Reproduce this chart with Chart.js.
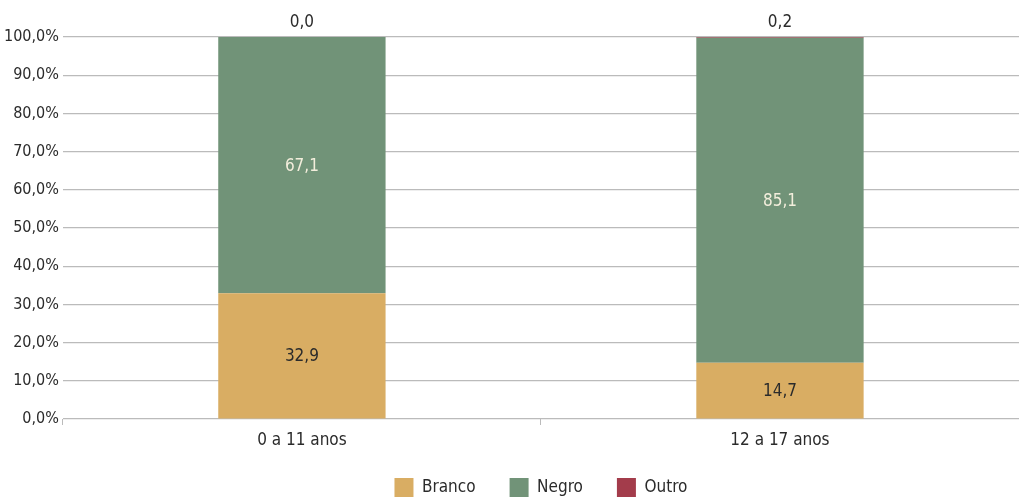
<!DOCTYPE html>
<html>
<head>
<meta charset="utf-8">
<script src="https://cdn.jsdelivr.net/npm/chart.js@4/dist/chart.umd.min.js"></script>
<style>
html,body{margin:0;padding:0;background:#fff;}
#wrap{width:1019px;height:497px;position:relative;}
</style>
</head>
<body>
<div id="wrap"><canvas id="c" width="1019" height="497"></canvas></div>
<script>
const categories = ["0 a 11 anos", "12 a 17 anos"];
const branco = [32.9, 14.7];
const negro = [67.1, 85.1];
const outro = [0.0, 0.2];
const seriesNames = ["Branco", "Negro", "Outro"];
const colors = ["#D9AD63", "#719378", "#A33C4B"];
const FONT = "'DejaVu Sans Condensed', 'Liberation Sans Narrow', sans-serif";

const fmt = v => v.toFixed(1).replace('.', ',');

const labelPlugin = {
  id: 'barLabels',
  afterLayout(chart) {
    // let the category labels paint below the shortened axis box
    const x = chart.scales.x;
    if (x) x.bottom = chart.height;
  },
  afterDatasetsDraw(chart) {
    const ctx = chart.ctx;
    ctx.save();
    ctx.font = "17px " + FONT;
    ctx.textAlign = 'center';
    chart.data.datasets.forEach((ds, di) => {
      const meta = chart.getDatasetMeta(di);
      meta.data.forEach((bar, i) => {
        const v = ds.data[i];
        if (di === 2) {
          ctx.fillStyle = '#2b2b2b';
          ctx.textBaseline = 'bottom';
          ctx.fillText(fmt(v), bar.x, bar.y - 6);
        } else {
          ctx.fillStyle = di === 1 ? '#f3eedc' : '#2b2b2b';
          ctx.textBaseline = 'middle';
          ctx.fillText(fmt(v), bar.x, (bar.y + bar.base) / 2 + 1);
        }
      });
    });
    ctx.restore();
  }
};

new Chart(document.getElementById('c'), {
  type: 'bar',
  data: {
    labels: categories,
    datasets: [
      { label: seriesNames[0], data: branco, backgroundColor: colors[0] },
      { label: seriesNames[1], data: negro, backgroundColor: colors[1] },
      { label: seriesNames[2], data: outro, backgroundColor: colors[2] }
    ]
  },
  options: {
    responsive: false,
    animation: false,
    layout: { padding: { top: 37, right: 0, left: 0, bottom: -10 } },
    datasets: { bar: { categoryPercentage: 1.0, barPercentage: 0.35 } },
    scales: {
      x: {
        stacked: true,
        grid: { drawOnChartArea: false, drawTicks: true, tickLength: 6, color: '#bbbbbb', offset: true },
        border: { display: false },
        ticks: { color: '#2b2b2b', font: { family: FONT, size: 17 }, padding: 5 },
        afterFit: s => { s.height = 25; }
      },
      y: {
        stacked: true,
        min: 0, max: 100,
        grid: { color: '#bbbbbb', lineWidth: 1.2, drawTicks: false },
        border: { display: false },
        ticks: {
          stepSize: 10,
          color: '#2b2b2b',
          padding: 4,
          font: { family: FONT, size: 16 },
          callback: v => fmt(v) + '%'
        }
      }
    },
    plugins: {
      tooltip: { enabled: false },
      legend: {
        position: 'bottom',
        fullSize: false,
        labels: {
          boxWidth: 19, boxHeight: 19, padding: 34,
          color: '#2b2b2b',
          font: { family: FONT, size: 17 }
        }
      }
    }
  },
  plugins: [labelPlugin]
});
</script>
</body>
</html>
